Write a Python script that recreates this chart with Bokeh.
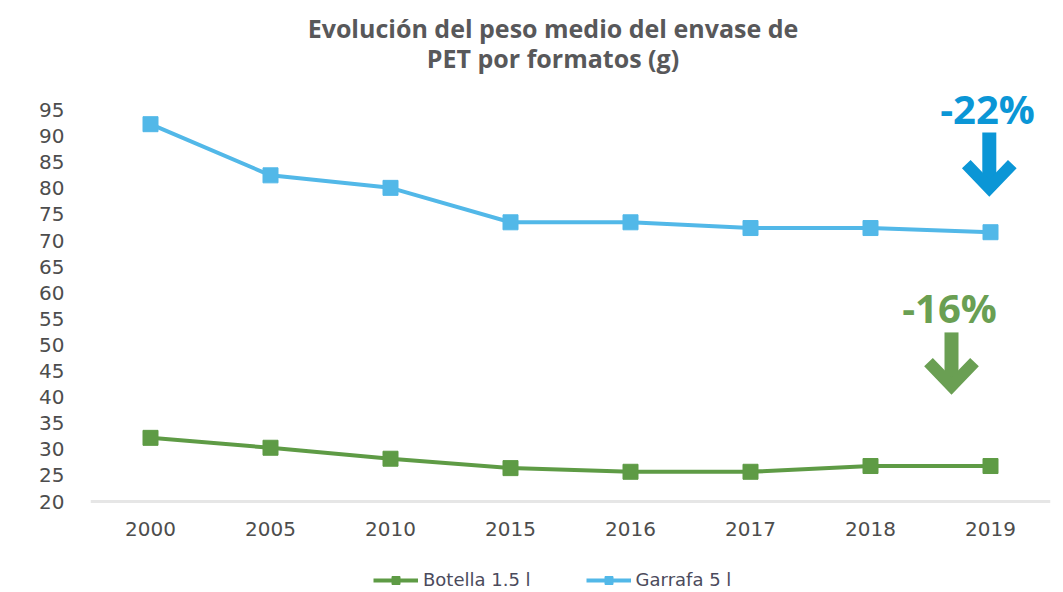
from bokeh.plotting import figure
from bokeh.models import (FactorRange, Range1d, FixedTicker, Legend, LegendItem,
                          Label, ColumnDataSource, Span)
from bokeh.core.properties import value
from bokeh.embed import file_html
from bokeh.resources import INLINE

# ---------------- data ----------------
years = ["2000", "2005", "2010", "2015", "2016", "2017", "2018", "2019"]
botella = [32.2, 30.3, 28.2, 26.4, 25.7, 25.7, 26.8, 26.8]
garrafa = [92.3, 82.5, 80.1, 73.5, 73.5, 72.4, 72.4, 71.6]
y_ticks = list(range(20, 100, 5))
series_names = ["Botella 1.5 l", "Garrafa 5 l"]
title_lines = ["Evolución del peso medio del envase de", "PET por formatos (g)"]
change_labels = ["-22%", "-16%"]

GREEN = "#5e9b45"
BLUE = "#52b8e8"
ANN_BLUE = "#0b96d6"
ANN_GREEN = "#6a9f53"
TXT = "#4d4d4d"

# The frame covers the full height so that title, x labels and legend
# (all drawn inside it) are not clipped; the y axis sits in the left border.
p = figure(width=1060, height=590,
           x_range=FactorRange(*years), y_range=Range1d(2.95, 116.0),
           x_axis_location=None,
           output_backend="svg", toolbar_location=None,
           min_border_left=90, min_border_right=10,
           min_border_top=0, min_border_bottom=0)
p.outline_line_color = None
p.xgrid.grid_line_color = None
p.ygrid.grid_line_color = None

p.yaxis.major_tick_line_color = None
p.yaxis.minor_tick_line_color = None
p.yaxis.major_label_text_font = "DejaVu Sans"
p.yaxis.major_label_text_font_size = "20px"
p.yaxis.major_label_text_color = TXT
p.yaxis.axis_line_color = None
p.yaxis.major_label_standoff = 20
p.yaxis.ticker = FixedTicker(ticks=y_ticks)

# category axis: baseline + labels
p.add_layout(Span(location=20, dimension="width", line_color="#e6e6e6",
                  line_width=3))
x_label_y = 20 - 27 / 5.22
p.text(x=years, y=[x_label_y] * len(years), text=years,
       text_align="center", text_baseline="middle",
       text_font=value("DejaVu Sans"), text_font_size=value("20px"),
       text_color=TXT)

src = ColumnDataSource(dict(year=years, botella=botella, garrafa=garrafa))
gl = p.line("year", "botella", source=src, line_color=GREEN, line_width=4)
gs = p.scatter("year", "botella", source=src, marker="square", size=15,
               fill_color=GREEN, line_color=GREEN)
bl = p.line("year", "garrafa", source=src, line_color=BLUE, line_width=4)
bs = p.scatter("year", "garrafa", source=src, marker="square", size=15,
               fill_color=BLUE, line_color=BLUE)

legend = Legend(items=[LegendItem(label=series_names[0], renderers=[gl, gs]),
                       LegendItem(label=series_names[1], renderers=[bl, bs])],
                orientation="horizontal", location=(283, 0),
                padding=0, margin=0, border_line_color=None,
                background_fill_alpha=0, glyph_width=45, glyph_height=20,
                label_standoff=5, spacing=55, label_height=20,
                label_text_font="DejaVu Sans", label_text_font_size="18px",
                label_text_color="#4b4b5c", label_text_baseline="middle")
p.add_layout(legend)

# ---------------- title (synthetic categorical x coords) ----------------
for txt, ty in zip(title_lines, [110.8, 105.0]):
    p.add_layout(Label(x=3.854, y=ty, text=txt,
                       text_align="center", text_baseline="middle",
                       text_font="Open Sans", text_font_style="bold",
                       text_font_size="25px", text_color="#58585a"))

# ---------------- change annotations ----------------
ann = [
    # label, colour, text x, text y, arrow x, shaft top, tip
    (change_labels[0], ANN_BLUE, 7.475, 95.3, 7.49, 90.7, 80.06),
    (change_labels[1], ANN_GREEN, 7.158, 57.2, 7.175, 52.4, 42.13),
]
head_dx = 23 / 120    # category units
head_dy = 24 / 5.22   # data units
for lab, col, tx, ty, ax_, top, tip in ann:
    p.add_layout(Label(x=tx, y=ty, text=lab,
                       text_align="center", text_baseline="middle",
                       text_font="Open Sans", text_font_style="bold",
                       text_font_size="40px", text_color=col))
    p.segment(x0=[ax_], y0=[top], x1=[ax_], y1=[tip],
              line_color=col, line_width=14, line_cap="butt")
    p.multi_line(xs=[[ax_ - head_dx, ax_, ax_ + head_dx]],
                 ys=[[tip + head_dy, tip, tip + head_dy]],
                 line_color=col, line_width=12, line_join="miter",
                 line_cap="butt")

open("out.html", "w").write(file_html(p, INLINE))
